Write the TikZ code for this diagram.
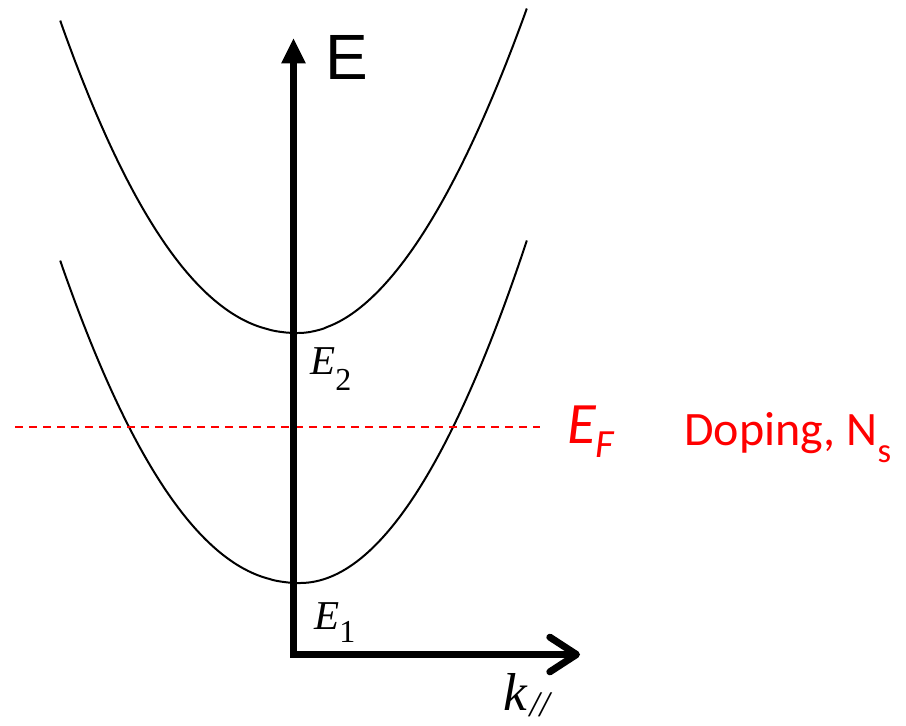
\documentclass[tikz,border=0pt]{standalone}
\usepackage{fontspec}
\setmainfont{Liberation Serif}
\newfontfamily\arialf{Liberation Sans}
\newfontfamily\calf{Carlito}
\usetikzlibrary{arrows.meta}
\begin{document}
\begin{tikzpicture}[x=0.75pt,y=-0.75pt,
  band/.style={line width=1.5pt},
  axis/.style={line width=5.25pt, line join=miter},
  lbl/.style={anchor=base west, inner sep=0pt},
  fermi/.style={red, line width=1.5pt, dash pattern=on 6pt off 4.5pt}]
\useasboundingbox (0,0) rectangle (906,725);
\coordinate (O) at (293.5,654.5);
\coordinate (Etip) at (293.5,38);
\coordinate (Ktip) at (580,654.5);
\coordinate (FL) at (15,426.5);
\coordinate (FR) at (540,426.5);
% subbands
\draw[band] plot[domain=0.001:1, samples=80, variable=\t] ({300-240*\t},{583-323*\t^2.147});
\draw[band] plot[domain=0:1, samples=80, variable=\t] ({300+227*\t},{583-343*\t*\t});
\draw[band] plot[domain=0.001:1, samples=80, variable=\t] ({298-238*\t},{333-313*\t^2.156});
\draw[band] plot[domain=0.001:1, samples=80, variable=\t] ({298+229*\t},{333-325*\t^1.955});
% Fermi level
\draw[fermi] (FL) -- (FR);
% axes
\draw[axis, {Triangle[length=19pt,width=17pt]}-{Straight Barb[round,length=20pt,width=26pt]}] (Etip) -- (O) -- (Ktip);
% labels
\node[lbl] (lE) at (325,79) {\arialf\fontsize{48}{48}\selectfont E};
\node[lbl] (lE2) at (310,374) {\fontsize{30.75}{31}\selectfont\itshape E\raisebox{-12pt}{\fontsize{24}{24}\selectfont\upshape 2}};
\node[lbl] (lE1) at (314,629) {\fontsize{30.75}{31}\selectfont\itshape E\raisebox{-10pt}{\fontsize{24}{24}\selectfont\upshape 1}};
\node[lbl] (lk) at (503,710) {\fontsize{40}{40}\selectfont\itshape k\hspace{2pt}\raisebox{-5pt}{\fontsize{27}{27}\selectfont //}};
\node[lbl, red] (lEF) at (567,443) {\calf\fontsize{44}{44}\selectfont\itshape E\raisebox{-11pt}{\fontsize{30}{30}\selectfont F}};
\node[lbl, red] (ldop) at (684,445) {\calf\fontsize{36}{36}\selectfont Doping, N\raisebox{-12.75pt}{\fontsize{26}{26}\selectfont s}};
\end{tikzpicture}
\end{document}
